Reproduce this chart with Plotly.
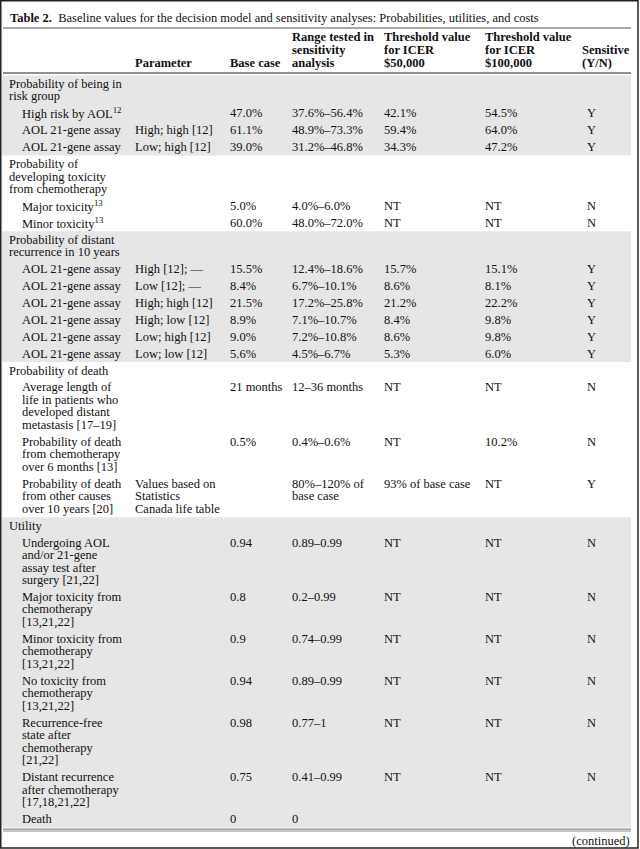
import plotly.graph_objects as go

# ---------------- data ----------------
title_bold = "Table 2."
title_rest = "Baseline values for the decision model and sensitivity analyses: Probabilities, utilities, and costs"

header_cols = [
    "",
    "Parameter",
    "Base case",
    "Range tested in<br>sensitivity<br>analysis",
    "Threshold value<br>for ICER<br>$50,000",
    "Threshold value<br>for ICER<br>$100,000",
    "Sensitive<br>(Y/N)",
]

# section index of each row (0..4), and whether it is a section heading
row_section = [0, 0, 0, 0,
               1, 1, 1,
               2, 2, 2, 2, 2, 2, 2,
               3, 3, 3, 3,
               4, 4, 4, 4, 4, 4, 4, 4]
row_is_heading = [1, 0, 0, 0,
                  1, 0, 0,
                  1, 0, 0, 0, 0, 0, 0,
                  1, 0, 0, 0,
                  1, 0, 0, 0, 0, 0, 0, 0]

labels = [
    "Probability of being in<br>risk group",
    "High risk by AOL<sup>12</sup>",
    "AOL 21-gene assay",
    "AOL 21-gene assay",
    "Probability of<br>developing toxicity<br>from chemotherapy",
    "Major toxicity<sup>13</sup>",
    "Minor toxicity<sup>13</sup>",
    "Probability of distant<br>recurrence in 10 years",
    "AOL 21-gene assay",
    "AOL 21-gene assay",
    "AOL 21-gene assay",
    "AOL 21-gene assay",
    "AOL 21-gene assay",
    "AOL 21-gene assay",
    "Probability of death",
    "Average length of<br>life in patients who<br>developed distant<br>metastasis [17–19]",
    "Probability of death<br>from chemotherapy<br>over 6 months [13]",
    "Probability of death<br>from other causes<br>over 10 years [20]",
    "Utility",
    "Undergoing AOL<br>and/or 21-gene<br>assay test after<br>surgery [21,22]",
    "Major toxicity from<br>chemotherapy<br>[13,21,22]",
    "Minor toxicity from<br>chemotherapy<br>[13,21,22]",
    "No toxicity from<br>chemotherapy<br>[13,21,22]",
    "Recurrence-free<br>state after<br>chemotherapy<br>[21,22]",
    "Distant recurrence<br>after chemotherapy<br>[17,18,21,22]",
    "Death",
]
parameters = [
    "", "", "High; high [12]", "Low; high [12]",
    "", "", "",
    "", "High [12]; —", "Low [12]; —", "High; high [12]", "High; low [12]", "Low; high [12]", "Low; low [12]",
    "", "", "", "Values based on<br>Statistics<br>Canada life table",
    "", "", "", "", "", "", "", "",
]
base_case = [
    "", "47.0%", "61.1%", "39.0%",
    "", "5.0%", "60.0%",
    "", "15.5%", "8.4%", "21.5%", "8.9%", "9.0%", "5.6%",
    "", "21 months", "0.5%", "",
    "", "0.94", "0.8", "0.9", "0.94", "0.98", "0.75", "0",
]
range_tested = [
    "", "37.6%–56.4%", "48.9%–73.3%", "31.2%–46.8%",
    "", "4.0%–6.0%", "48.0%–72.0%",
    "", "12.4%–18.6%", "6.7%–10.1%", "17.2%–25.8%", "7.1%–10.7%", "7.2%–10.8%", "4.5%–6.7%",
    "", "12–36 months", "0.4%–0.6%", "80%–120% of<br>base case",
    "", "0.89–0.99", "0.2–0.99", "0.74–0.99", "0.89–0.99", "0.77–1", "0.41–0.99", "0",
]
threshold_50k = [
    "", "42.1%", "59.4%", "34.3%",
    "", "NT", "NT",
    "", "15.7%", "8.6%", "21.2%", "8.4%", "8.6%", "5.3%",
    "", "NT", "NT", "93% of base case",
    "", "NT", "NT", "NT", "NT", "NT", "NT", "",
]
threshold_100k = [
    "", "54.5%", "64.0%", "47.2%",
    "", "NT", "NT",
    "", "15.1%", "8.1%", "22.2%", "9.8%", "9.8%", "6.0%",
    "", "NT", "10.2%", "NT",
    "", "NT", "NT", "NT", "NT", "NT", "NT", "",
]
sensitive = [
    "", "Y", "Y", "Y",
    "", "N", "N",
    "", "Y", "Y", "Y", "Y", "Y", "Y",
    "", "N", "N", "Y",
    "", "N", "N", "N", "N", "N", "N", "",
]
section_shaded = [True, False, True, False, True]
footer = "(continued)"

# ---------------- layout constants ----------------
W, H = 640, 849
FONT = "Liberation Serif"
FS = 12.5
COLOR = "#111111"
col_x = [8, 134, 229, 291, 383, 484, 586]
indent_x = 21
header_col_x = [8, 134, 229, 291, 383, 484, 581]
L = 12.5      # line height
P = 4.4       # row padding
body_top = 75.5
left_x, right_x = 2, 631
band_color = "#e6e6e6"

fig = go.Figure()
fig.add_trace(go.Scatter(x=[0, W], y=[0, H], mode="markers",
                         marker=dict(opacity=0), hoverinfo="skip", showlegend=False))

annotations = []
shapes = []


def add_text(x, y, text, anchor="left", size=FS):
    annotations.append(dict(x=x, y=y, xref="x", yref="y", text=text, showarrow=False,
                            xanchor=anchor, yanchor="middle", borderpad=0,
                            font=dict(family=FONT, size=size, color=COLOR)))


# title
add_text(9, 18, "<b>" + title_bold + "</b>  " + title_rest)

# header (bottom aligned, 3 lines)
header_line_y = [37, 50, 63]
for ci, txt in enumerate(header_cols):
    if not txt:
        continue
    parts = txt.split("<br>")
    start = 3 - len(parts)
    for k, part in enumerate(parts):
        add_text(header_col_x[ci], header_line_y[start + k], "<b>" + part + "</b>")

# body rows
columns = [labels, parameters, base_case, range_tested, threshold_50k, threshold_100k, sensitive]
y = body_top
section_bounds = {}
for r in range(len(labels)):
    cells = [c[r] for c in columns]
    nlines = max(len(c.split("<br>")) if c else 1 for c in cells)
    h = nlines * L + P
    s = row_section[r]
    if s not in section_bounds:
        section_bounds[s] = [y, y + h]
    else:
        section_bounds[s][1] = y + h
    for ci, cell in enumerate(cells):
        if not cell:
            continue
        x = col_x[ci]
        if ci == 0:
            x = col_x[0] if row_is_heading[r] else indent_x
        for k, part in enumerate(cell.split("<br>")):
            add_text(x, y + P / 2 + L / 2 + k * L, part)
    y += h
body_bottom = y

# section bands
for s, (y0, y1) in section_bounds.items():
    if section_shaded[s]:
        shapes.append(dict(type="rect", xref="x", yref="y", x0=left_x, x1=right_x,
                           y0=y0, y1=y1, fillcolor=band_color, line=dict(width=0),
                           layer="below"))

# rules
shapes.append(dict(type="line", xref="x", yref="y", x0=3, x1=right_x, y0=28, y1=28,
                   line=dict(color="#555555", width=1.2)))
shapes.append(dict(type="line", xref="x", yref="y", x0=3, x1=right_x, y0=73, y1=73,
                   line=dict(color="#222222", width=1)))
shapes.append(dict(type="line", xref="x", yref="y", x0=3, x1=right_x,
                   y0=body_bottom + 1.8, y1=body_bottom + 1.8,
                   line=dict(color="#8a8a8a", width=1.2)))
shapes.append(dict(type="line", xref="x", yref="y", x0=3, x1=right_x,
                   y0=body_bottom + 3.6, y1=body_bottom + 3.6,
                   line=dict(color="#8a8a8a", width=1.2)))
# outer border
shapes.append(dict(type="rect", xref="x", yref="y", x0=0.75, x1=638, y0=0.75, y1=848,
                   line=dict(color="#222222", width=1.5), fillcolor="rgba(0,0,0,0)"))

add_text(631, 841, footer, anchor="right")

fig.update_layout(
    width=W, height=H, margin=dict(l=0, r=0, t=0, b=0),
    paper_bgcolor="white", plot_bgcolor="white",
    xaxis=dict(range=[0, W], visible=False, fixedrange=True),
    yaxis=dict(range=[H, 0], visible=False, fixedrange=True),
    showlegend=False, annotations=annotations, shapes=shapes,
)

fig.write_html("out.html", config={"displayModeBar": False},
               post_script="document.body.style.margin='0px';document.body.style.overflow='hidden';")
